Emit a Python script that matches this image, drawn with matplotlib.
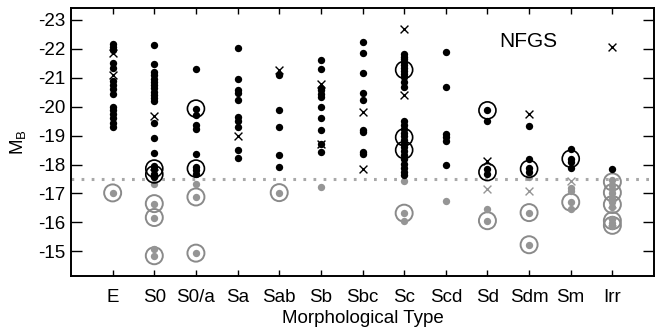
'''Absolute magnitude versus morphological type for the NFGS sample'''
import matplotlib
matplotlib.use('Agg')
from matplotlib import pyplot as plt

types = ['E', 'S0', 'S0/a', 'Sa', 'Sab', 'Sb', 'Sbc', 'Sc', 'Scd', 'Sd',
         'Sdm', 'Sm', 'Irr']

# black filled points
black_dots = {
    'E': [-22.15, -22.05, -21.95, -21.5, -21.35, -20.9, -20.75, -20.6,
          -20.45, -20.0, -19.9, -19.75, -19.6, -19.45, -19.3],
    'S0': [-22.12, -21.48, -21.2, -21.08, -20.97, -20.86, -20.75, -20.63,
           -20.52, -20.41, -20.3, -20.2, -19.43, -18.93, -18.4, -17.94,
           -17.83, -17.69, -17.57],
    'S0/a': [-21.31, -19.92, -19.72, -19.36, -19.22, -18.35, -17.92,
             -17.8, -17.69],
    'Sa': [-22.02, -20.97, -20.59, -20.47, -20.24, -19.63, -19.52, -19.31,
           -18.5, -18.22],
    'Sab': [-21.1, -19.9, -19.3, -18.33, -17.92],
    'Sb': [-21.6, -21.31, -20.66, -20.56, -20.45, -20.33, -20.0, -19.62,
           -19.18, -18.72, -18.43],
    'Sbc': [-22.23, -21.85, -21.16, -20.47, -20.22, -19.2, -19.12, -18.43,
            -18.36],
    'Sc': [-21.83, -21.73, -21.63, -21.53, -21.43, -21.33, -21.23, -21.13,
           -21.02, -20.85, -20.68, -19.52, -19.38, -19.24, -19.1, -18.98,
           -18.85, -18.72, -18.6, -18.48, -18.33, -18.18, -18.02, -17.87,
           -17.74, -17.63],
    'Scd': [-21.88, -20.68, -19.07, -18.95, -18.8, -18.0],
    'Sd': [-19.87, -19.5, -17.86, -17.69],
    'Sdm': [-19.33, -18.19, -17.87, -17.73],
    'Sm': [-18.55, -18.2, -18.1, -17.88],
    'Irr': [-17.86],
}
black_crosses = {
    'E': [-21.85, -21.1],
    'S0': [-19.67, -17.72],
    'Sa': [-18.99],
    'Sab': [-21.26],
    'Sb': [-20.77, -18.72],
    'Sbc': [-19.81, -17.86],
    'Sc': [-22.69, -20.4],
    'Sd': [-18.12],
    'Sdm': [-19.73],
    'Irr': [-22.06],
}
black_rings = {
    'S0': [-17.86, -17.66],
    'S0/a': [-19.93, -17.86],
    'Sc': [-21.27, -18.94, -18.5],
    'Sd': [-19.87, -17.74],
    'Sdm': [-17.85],
    'Sm': [-18.2],
}
gray_dots = {
    'E': [-17.02],
    'S0': [-17.32, -16.65, -16.17, -15.1, -14.84],
    'S0/a': [-17.32, -16.88, -14.94],
    'Sab': [-17.03],
    'Sb': [-17.23],
    'Sc': [-17.43, -16.32, -16.05],
    'Scd': [-16.73],
    'Sd': [-16.45, -16.06],
    'Sdm': [-17.58, -16.34, -15.23],
    'Sm': [-17.19, -17.07, -16.7, -16.46],
    'Irr': [-17.45, -17.3, -17.15, -17.0, -16.85, -16.7, -16.55, -16.12,
            -15.97, -15.86],
}
gray_crosses = {
    'Sd': [-17.14],
    'Sdm': [-17.1],
    'Sm': [-17.42],
    'Irr': [-16.62, -16.02],
}
gray_rings = {
    'E': [-17.02],
    'S0': [-16.65, -16.17, -14.85],
    'S0/a': [-16.88, -14.94],
    'Sab': [-17.03],
    'Sc': [-16.32],
    'Sd': [-16.06],
    'Sdm': [-16.34, -15.23],
    'Sm': [-16.7],
    'Irr': [-17.4, -17.03, -16.62, -16.06, -15.9],
}
dwarf_cut = -17.5

GRAY = '#959595'
RING_GRAY = '#8a8a8a'

plt.rcParams['font.family'] = ['Liberation Sans', 'DejaVu Sans']


def points(groups):
    '''Flatten a {type: [mags]} mapping into x and y lists.'''
    xs, ys = [], []
    for name, mags in groups.items():
        pos = types.index(name) + 1
        xs += [pos] * len(mags)
        ys += mags
    return xs, ys


fig = plt.figure(figsize=(6.55, 3.3), dpi=100)
ax = fig.add_axes([0.1084, 0.1636, 0.8901, 0.8134])

ax.axhline(dwarf_cut, color='#a8a8a8', lw=2.2, dashes=(0.9, 2.4),
           dash_capstyle='butt', zorder=1)

x, y = points(gray_rings)
ax.scatter(x, y, s=150, facecolors='none', edgecolors=RING_GRAY,
           linewidths=1.4, zorder=2)
x, y = points(gray_dots)
ax.scatter(x, y, s=28, color=GRAY, linewidths=0, zorder=3)
x, y = points(gray_crosses)
ax.scatter(x, y, s=32, marker='x', color=GRAY, linewidths=1.0, zorder=3)

x, y = points(black_rings)
ax.scatter(x, y, s=150, facecolors='none', edgecolors='black',
           linewidths=1.2, zorder=4)
x, y = points(black_dots)
ax.scatter(x, y, s=28, color='black', linewidths=0, zorder=5)
x, y = points(black_crosses)
ax.scatter(x, y, s=32, marker='x', color='black', linewidths=1.0, zorder=5)

ax.set_xlim(0, 14)
ax.set_ylim(-14.15, -23.42)
ax.set_xticks(range(1, len(types) + 1))
ax.set_xticklabels(types)
ax.set_yticks(range(-23, -14))
ax.set_yticklabels([str(v) for v in range(-23, -14)])

ax.tick_params(axis='x', direction='in', length=4.5, width=1.0,
               top=True, labelsize=13.5, pad=9)
ax.tick_params(axis='y', direction='in', length=8, width=1.0,
               right=True, labelsize=13.5, pad=4)
for spine in ax.spines.values():
    spine.set_linewidth(1.4)

ax.set_xlabel('Morphological Type', fontsize=13.5, labelpad=3)
ax.set_ylabel(r'$\mathregular{M_B}$', fontsize=13.5, labelpad=7)
ax.text(0.735, 0.875, 'NFGS', transform=ax.transAxes, fontsize=15,
        ha='left', va='center')

fig.savefig('out.png', dpi=100)
